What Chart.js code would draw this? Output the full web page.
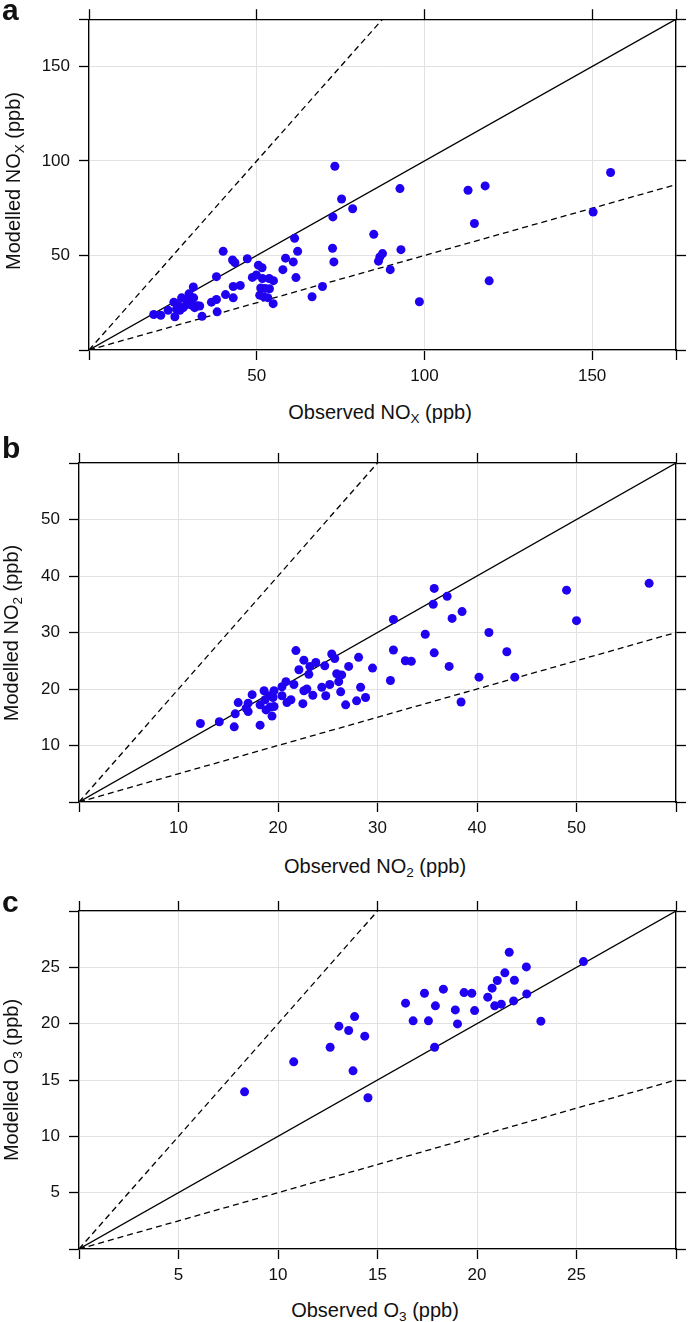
<!DOCTYPE html>
<html><head><meta charset="utf-8">
<script src="https://cdn.jsdelivr.net/npm/chart.js@4/dist/chart.umd.min.js"></script>
<style>
html,body{margin:0;padding:0;background:#fff;}
body{width:688px;height:1322px;position:relative;overflow:hidden;font-family:"Liberation Sans",Arial,sans-serif;color:#111;}
canvas{position:absolute;left:0;}
.lbl{position:absolute;white-space:nowrap;font-size:20px;line-height:1;}
.ytitle{transform:translate(-50%,-50%) rotate(-90deg);}
.xtitle{transform:translate(-50%,-50%);}
.panel{position:absolute;left:2px;font-weight:bold;font-size:30px;line-height:1;}
sub{font-size:0.68em;vertical-align:-0.28em;line-height:0;}
</style>
</head><body>
<canvas id="ca" width="688" height="400" style="top:0px"></canvas>
<canvas id="cb" width="688" height="400" style="top:440px"></canvas>
<canvas id="cc" width="688" height="400" style="top:890px"></canvas>

<div class="panel" style="top:-5px">a</div>
<div class="panel" style="top:433px">b</div>
<div class="panel" style="top:887px">c</div>

<div class="lbl xtitle" style="left:380px;top:412px">Observed NO<sub>X</sub> (ppb)</div>
<div class="lbl ytitle" style="left:13px;top:181px">Modelled NO<sub>X</sub> (ppb)</div>
<div class="lbl xtitle" style="left:375px;top:866px">Observed NO<sub>2</sub> (ppb)</div>
<div class="lbl ytitle" style="left:11px;top:633px">Modelled NO<sub>2</sub> (ppb)</div>
<div class="lbl xtitle" style="left:375px;top:1310px">Observed O<sub>3</sub> (ppb)</div>
<div class="lbl ytitle" style="left:11px;top:1080px">Modelled O<sub>3</sub> (ppb)</div>

<script>
// ---- Data ----
const noxObserved = [73.3,155.5,92.7,113.0,118.1,75.3,78.6,72.7,150.3,114.9,84.9,61.3,62.2,72.6,93.0,40.0,87.5,86.7,86.3,58.6,47.2,42.8,43.5,60.9,73.0,50.5,51.6,57.8,89.8,119.3,98.5,66.5,69.6,38.0,48.7,49.9,51.7,53.7,55.0,61.7,51.2,52.5,53.8,50.9,52.1,53.3,54.9,43.0,45.1,40.7,43.0,36.5,38.0,38.2,33.7,31.1,29.8,31.2,27.6,25.3,26.6,28.1,29.1,30.6,31.5,33.0,26.1,27.1,23.6,21.4,19.3,25.6,29.0,32.3];
const noxModelled = [97.2,93.9,85.4,84.5,86.8,79.9,74.7,70.4,73.0,66.9,61.2,59.1,52.2,53.8,53.1,52.2,51.0,49.2,47.0,48.6,48.3,47.6,46.2,46.6,46.6,44.9,43.5,42.5,42.5,36.6,25.5,28.2,33.6,38.8,38.4,39.7,37.8,37.8,36.7,38.3,32.8,32.6,32.4,29.0,28.1,27.7,24.5,33.6,34.1,29.3,27.6,25.3,26.7,20.2,17.8,33.3,29.7,27.6,27.6,25.3,23.6,22.4,24.1,23.8,22.4,23.3,21.6,21.0,21.0,18.4,18.8,17.6,26.5,23.4];

const no2Observed = [57.3,49.0,50.0,35.7,37.0,35.6,38.5,37.5,31.6,34.8,41.2,31.6,35.7,43.0,32.8,33.4,37.2,31.3,40.2,43.8,38.4,21.8,25.4,25.7,22.6,23.8,23.2,23.1,22.1,24.7,27.1,28.1,29.5,25.9,26.4,26.1,25.2,24.4,28.3,22.9,22.6,26.3,21.6,20.8,20.4,23.5,24.8,28.8,27.9,26.8,22.5,21.3,20.9,20.4,19.6,19.5,19.6,19.4,18.6,19.1,18.8,19.2,18.2,17.4,17.0,17.0,16.0,15.7,16.8,18.2,15.6,14.1,12.2,18.7];
const no2Modelled = [38.7,37.5,32.1,37.8,36.4,35.0,33.7,32.5,32.3,29.7,30.0,26.9,26.4,26.6,25.0,24.9,24.0,21.5,22.1,22.1,17.7,26.8,26.2,25.4,25.1,24.7,24.0,22.6,23.4,24.1,24.0,25.6,23.7,22.7,22.5,21.3,20.8,20.3,20.3,20.0,19.7,19.5,20.8,21.3,20.4,18.9,18.8,18.5,17.9,17.2,17.4,18.1,17.6,18.8,19.7,18.5,16.9,15.2,19.7,18.8,16.3,16.8,17.2,19.0,17.5,16.0,17.6,15.6,16.6,13.6,13.3,14.2,13.9,18.1];

const o3Observed = [8.32,10.79,12.62,13.06,13.55,13.85,13.77,14.36,14.52,16.41,16.79,17.36,17.56,17.91,17.87,18.31,18.91,19.02,19.35,19.74,19.88,20.54,20.76,21.02,20.89,21.22,21.40,21.62,21.88,21.84,22.48,22.50,23.21,25.35];
const o3Modelled = [13.95,16.61,17.91,19.78,19.39,20.63,15.81,18.89,13.42,21.82,20.25,22.70,20.25,21.58,17.91,23.06,21.22,19.98,22.76,22.70,21.16,22.35,23.15,23.83,21.58,21.73,24.51,26.34,23.85,22.02,25.04,22.64,20.22,25.51];

// axis ranges and tick steps [a, b, c]
const axisMax = [175, 60, 30];
const tickStep = [50, 10, 5];
// reference lines: ratio of modelled to observed
const refRatios = [1, 2, 0.5];

const FONT = '"Liberation Sans", Arial, sans-serif';

function buildPanel(canvasId, obs, mod, axMax, step, geom){
  const pts = obs.map((v,i)=>({x:v, y:mod[i]}));
  const refLine = (r) => r >= 1 ? [{x:0,y:0},{x:axMax/r,y:axMax}] : [{x:0,y:0},{x:axMax,y:axMax*r}];
  const datasets = [{
    type:'scatter', data: pts, order:0,
    pointRadius:4.5, pointHoverRadius:4.5, pointBackgroundColor:'rgb(32,0,240)', pointBorderWidth:0, showLine:false
  }];
  refRatios.forEach(r=>{
    datasets.push({
      type:'scatter', data: refLine(r), order:1, showLine:true, pointRadius:0,
      borderColor:'#000', borderWidth:1.3, borderDash: r===1 ? [] : [6,4], fill:false
    });
  });
  const hideEnds = (v)=> (v===0 || v===axMax) ? '' : String(v);
  const grid = {color:'#e2e2e2', lineWidth:1, tickColor:'#000', tickLength:10, tickWidth:1.3};
  const gridOuter = {drawOnChartArea:false, tickColor:'#000', tickLength:10, tickWidth:1.3};
  const border = {color:'#000', width:1.3};
  const tf = {family:FONT, size:17};
  new Chart(document.getElementById(canvasId), {
    type:'scatter',
    data:{datasets},
    options:{
      responsive:false, animation:false, events:[],
      layout:{padding:0},
      plugins:{legend:{display:false}, tooltip:{enabled:false}},
      scales:{
        x:{type:'linear', position:'bottom', min:0, max:axMax,
           ticks:{stepSize:step, autoSkip:false, maxRotation:0, padding:6, color:'#111', font:tf, callback:hideEnds},
           grid, border, afterFit:(s)=>{s.height = geom.bottom;}},
        y:{type:'linear', position:'left', min:0, max:axMax,
           ticks:{stepSize:step, autoSkip:false, padding:9, color:'#111', font:tf, callback:hideEnds},
           grid, border, afterFit:(s)=>{s.width = geom.left;}},
        x2:{type:'linear', position:'top', min:0, max:axMax,
           ticks:{stepSize:step, autoSkip:false, display:false},
           grid:gridOuter, border, afterFit:(s)=>{s.height = geom.top;}},
        y2:{type:'linear', position:'right', min:0, max:axMax,
           ticks:{stepSize:step, autoSkip:false, display:false},
           grid:gridOuter, border, afterFit:(s)=>{s.width = geom.right;}}
      }
    }
  });
}

// geometry: sizes of the axis bands inside each 688x400 canvas
buildPanel('ca', noxObserved, noxModelled, axisMax[0], tickStep[0], {top:12, bottom:50, left:89, right:12});
buildPanel('cb', no2Observed, no2Modelled, axisMax[1], tickStep[1], {top:23, bottom:38, left:79, right:12});
buildPanel('cc', o3Observed, o3Modelled, axisMax[2], tickStep[2], {top:21, bottom:41, left:79, right:12});
</script>
</body></html>
